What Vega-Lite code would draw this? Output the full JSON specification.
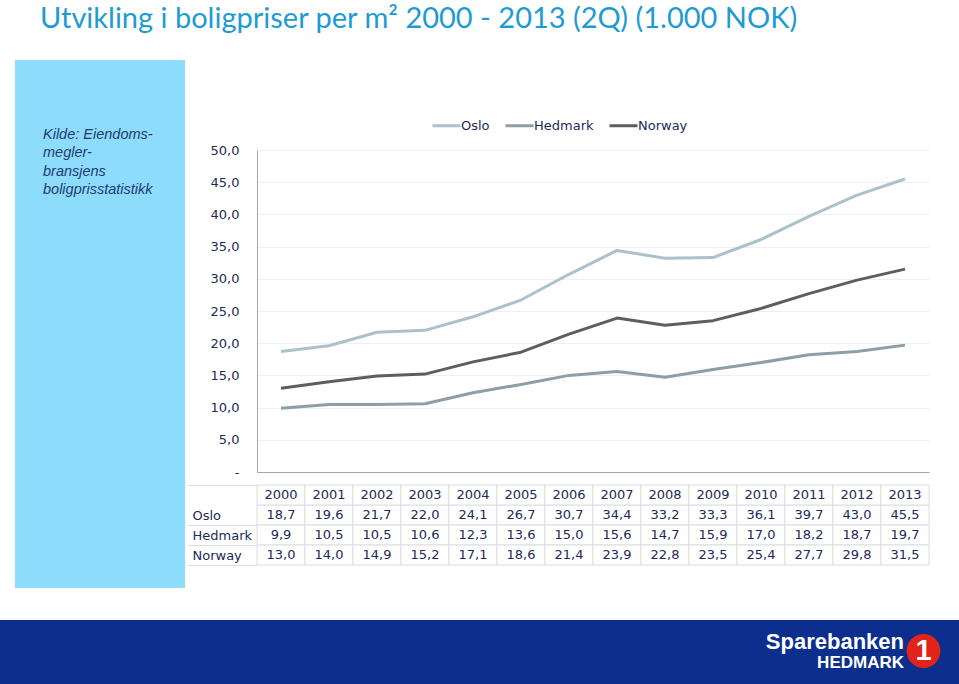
{
  "$schema": "https://vega.github.io/schema/vega-lite/v6.json",
  "padding": {"left": 0, "right": 0, "top": 5, "bottom": 0},
  "background": "white",
  "config": {
    "locale": {"number": {"decimal": ",", "thousands": ".", "grouping": [3], "currency": ["", " kr"]}},
    "view": {"stroke": null},
    "font": "DejaVu Sans"
  },
  "title": {
    "text": "Utvikling i boligpriser per m² 2000 - 2013 (2Q) (1.000 NOK)",
    "anchor": "start", "dx": 40, "font": "Lato", "fontSize": 29, "fontWeight": "normal",
    "color": "#1e9bd2", "offset": 26
  },
  "datasets": {
    "prices": [
      {"region": "Oslo", "year": "2000", "value": 18.7},
      {"region": "Oslo", "year": "2001", "value": 19.6},
      {"region": "Oslo", "year": "2002", "value": 21.7},
      {"region": "Oslo", "year": "2003", "value": 22.0},
      {"region": "Oslo", "year": "2004", "value": 24.1},
      {"region": "Oslo", "year": "2005", "value": 26.7},
      {"region": "Oslo", "year": "2006", "value": 30.7},
      {"region": "Oslo", "year": "2007", "value": 34.4},
      {"region": "Oslo", "year": "2008", "value": 33.2},
      {"region": "Oslo", "year": "2009", "value": 33.3},
      {"region": "Oslo", "year": "2010", "value": 36.1},
      {"region": "Oslo", "year": "2011", "value": 39.7},
      {"region": "Oslo", "year": "2012", "value": 43.0},
      {"region": "Oslo", "year": "2013", "value": 45.5},
      {"region": "Hedmark", "year": "2000", "value": 9.9},
      {"region": "Hedmark", "year": "2001", "value": 10.5},
      {"region": "Hedmark", "year": "2002", "value": 10.5},
      {"region": "Hedmark", "year": "2003", "value": 10.6},
      {"region": "Hedmark", "year": "2004", "value": 12.3},
      {"region": "Hedmark", "year": "2005", "value": 13.6},
      {"region": "Hedmark", "year": "2006", "value": 15.0},
      {"region": "Hedmark", "year": "2007", "value": 15.6},
      {"region": "Hedmark", "year": "2008", "value": 14.7},
      {"region": "Hedmark", "year": "2009", "value": 15.9},
      {"region": "Hedmark", "year": "2010", "value": 17.0},
      {"region": "Hedmark", "year": "2011", "value": 18.2},
      {"region": "Hedmark", "year": "2012", "value": 18.7},
      {"region": "Hedmark", "year": "2013", "value": 19.7},
      {"region": "Norway", "year": "2000", "value": 13.0},
      {"region": "Norway", "year": "2001", "value": 14.0},
      {"region": "Norway", "year": "2002", "value": 14.9},
      {"region": "Norway", "year": "2003", "value": 15.2},
      {"region": "Norway", "year": "2004", "value": 17.1},
      {"region": "Norway", "year": "2005", "value": 18.6},
      {"region": "Norway", "year": "2006", "value": 21.4},
      {"region": "Norway", "year": "2007", "value": 23.9},
      {"region": "Norway", "year": "2008", "value": 22.8},
      {"region": "Norway", "year": "2009", "value": 23.5},
      {"region": "Norway", "year": "2010", "value": 25.4},
      {"region": "Norway", "year": "2011", "value": 27.7},
      {"region": "Norway", "year": "2012", "value": 29.8},
      {"region": "Norway", "year": "2013", "value": 31.5}
    ]
  },
  "spacing": 32,
  "resolve": {"scale": {"color": "independent"}, "legend": {"color": "independent"}},
  "vconcat": [
    {
      "spacing": 2,
      "resolve": {"scale": {"color": "independent"}, "legend": {"color": "independent"}},
      "hconcat": [
        {"width": 13, "height": 1, "data": {"values": []}, "mark": "point"},
        {
          "width": 170, "height": 528,
          "view": {"fill": "#8edcfc", "stroke": null},
          "data": {"values": [{"kilde": "Kilde: Eiendoms-\nmegler-\nbransjens\nboligprisstatistikk"}]},
          "mark": {"type": "text", "align": "left", "baseline": "top", "lineBreak": "\n",
                   "font": "Liberation Sans", "fontStyle": "italic", "fontSize": 14.5, "lineHeight": 18.3,
                   "color": "#1f3b73", "dx": -57, "dy": -196},
          "encoding": {"text": {"field": "kilde"}}
        },
        {
          "spacing": 49,
          "resolve": {"scale": {"color": "independent"}, "legend": {"color": "independent"}},
          "vconcat": [
            {"width": 672, "height": 1, "data": {"values": []}, "mark": "point"},
            {
              "spacing": 0,
              "resolve": {"scale": {"color": "independent"}, "legend": {"color": "independent"}},
              "vconcat": [
                {
                  "width": 672, "height": 322,
                  "data": {"name": "prices"},
                  "mark": {"type": "line", "strokeWidth": 3, "strokeJoin": "round"},
                  "encoding": {
                    "x": {"field": "year", "type": "ordinal", "scale": {"type": "point", "padding": 0.5},
                          "axis": {"labels": false, "ticks": false, "domain": true, "domainColor": "#a6a6a6", "title": null, "grid": false}},
                    "y": {"field": "value", "type": "quantitative", "scale": {"domain": [0, 50], "nice": false},
                          "axis": {"values": [0, 5, 10, 15, 20, 25, 30, 35, 40, 45, 50], "format": ".1f",
                                   "labelExpr": "datum.value == 0 ? '-' : datum.label",
                                   "title": null, "ticks": false, "domainColor": "#a6a6a6", "labelPadding": 18,
                                   "labelFontSize": 13, "labelFont": "DejaVu Sans", "labelColor": "#1c2a5a",
                                   "grid": true, "gridColor": "#efefef"}},
                    "color": {"field": "region", "type": "nominal",
                              "scale": {"domain": ["Oslo", "Hedmark", "Norway"], "range": ["#abc2ca", "#8d9ea6", "#5e5e5e"]},
                              "legend": {"title": null, "orient": "none", "legendX": 174, "legendY": -40,
                                         "direction": "horizontal", "symbolType": "stroke", "symbolSize": 784,
                                         "symbolStrokeWidth": 3, "labelFontSize": 13, "labelFont": "DejaVu Sans",
                                         "labelColor": "#1c2a5a", "labelOffset": -1, "columnPadding": 9, "padding": 0}}
                  }
                },
                {
                  "width": 672, "height": 80,
                  "data": {"name": "prices"},
                  "encoding": {
                    "x": {"field": "year", "type": "ordinal", "scale": {"type": "band", "paddingInner": 0, "paddingOuter": 0}, "axis": null},
                    "y": {"field": "region", "type": "nominal",
                          "scale": {"domain": ["hdr", "Oslo", "Hedmark", "Norway"], "paddingInner": 0, "paddingOuter": 0},
                          "axis": {"title": null, "labelAlign": "left", "labelPadding": -4, "labelFontSize": 13,
                                   "labelFont": "DejaVu Sans", "labelColor": "#1c2a5a",
                                   "labelExpr": "datum.value == 'hdr' ? '' : datum.value",
                                   "domain": false, "ticks": true, "tickBand": "extent", "tickSize": 69, "tickColor": "#dcdcdc",
                                   "tickOpacity": {"condition": {"test": "datum.value == 'hdr'", "value": 0}, "value": 1}}}
                  },
                  "layer": [
                    {"mark": {"type": "rect", "fill": "white", "stroke": "#dcdcdc", "strokeWidth": 1}},
                    {"mark": {"type": "text", "fontSize": 13, "font": "DejaVu Sans", "color": "#1c2a5a"},
                     "encoding": {"text": {"field": "value", "type": "quantitative", "format": ".1f"}}},
                    {
                      "transform": [{"aggregate": [{"op": "count", "as": "n"}], "groupby": ["year"]}],
                      "encoding": {"y": {"datum": "hdr", "type": "nominal"}},
                      "layer": [
                        {"mark": {"type": "rect", "fill": "white", "stroke": "#dcdcdc", "strokeWidth": 1}},
                        {"mark": {"type": "text", "fontSize": 13, "font": "DejaVu Sans", "color": "#1c2a5a"},
                         "encoding": {"text": {"field": "year", "type": "nominal"}}}
                      ]
                    }
                  ]
                }
              ]
            }
          ]
        }
      ]
    },
    {
      "width": 959, "height": 64,
      "view": {"fill": "#0c2f8d", "stroke": null},
      "data": {"values": [{"logo": "1"}]},
      "title": {"text": "Sparebanken", "subtitle": "HEDMARK", "anchor": "end", "orient": "top", "offset": -52, "dx": -55,
                "color": "white", "subtitleColor": "white", "font": "Liberation Sans", "fontSize": 22, "fontWeight": "bold",
                "subtitleFont": "Liberation Sans", "subtitleFontSize": 17, "subtitleFontWeight": "bold", "subtitlePadding": 1},
      "layer": [
        {"mark": {"type": "circle", "size": 1150, "color": "#e2231a", "opacity": 1, "xOffset": 444, "yOffset": -1}},
        {"mark": {"type": "text", "fontSize": 29, "fontWeight": "bold", "font": "Liberation Sans", "color": "white",
                  "baseline": "middle", "dx": 444, "dy": -1},
         "encoding": {"text": {"field": "logo"}}}
      ]
    }
  ]
}
